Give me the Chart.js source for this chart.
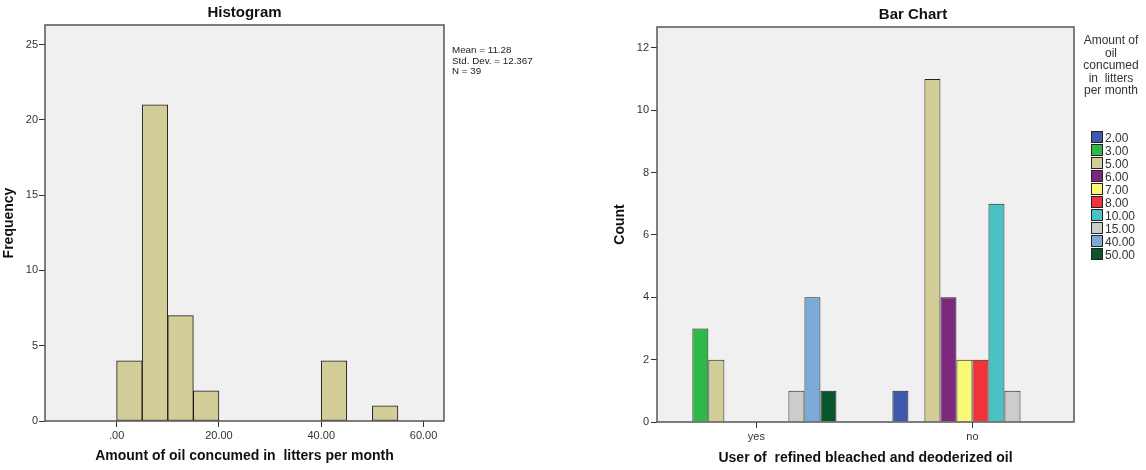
<!DOCTYPE html>
<html>
<head>
<meta charset="utf-8">
<script src="https://cdn.jsdelivr.net/npm/chart.js@4.4.1/dist/chart.umd.min.js"></script>
<style>
  body { margin: 0; background: #fff; width: 1146px; height: 470px; overflow: hidden; position: relative;
         font-family: "Liberation Sans", Arial, sans-serif; }
  #histCanvas { position: absolute; left: 0; top: 0; }
  #barCanvas { position: absolute; left: 580px; top: 0; }
  .bar-title { position: absolute; left: 813px; top: 4px; width: 200px; text-align: center;
               font-weight: bold; font-size: 15px; line-height: 20px; color: #111; }
  .stats { position: absolute; left: 452px; top: 45px; font-size: 9.8px; line-height: 10.5px; color: #222; white-space: pre; }
  .legend { position: absolute; left: 1076px; top: 0; width: 70px; color: #333; }
  .legend-title { position: absolute; left: 0; top: 34px; width: 70px; text-align: center; font-size: 12px; line-height: 12.5px; white-space: pre; }
  .legend-item { position: absolute; left: 15px; height: 13px; font-size: 12px; line-height: 13px; white-space: nowrap; }
  .legend-item span { display: inline-block; width: 10px; height: 10px; border: 1px solid #222; vertical-align: -1px; margin-right: 2px; }
</style>
</head>
<body>
<canvas id="histCanvas" width="540" height="470"></canvas>
<canvas id="barCanvas" width="566" height="470"></canvas>
<div class="bar-title">Bar Chart</div>
<div class="stats">Mean = 11.28
Std. Dev. = 12.367
N = 39</div>
<div class="legend" id="legend"></div>
<script>
// Histogramme : quantité d'huile consommée (bins de 5 litres)
const histBinStart = [0, 5, 10, 15, 40, 50];
const histCounts = [4, 21, 7, 2, 4, 1];
const binWidth = 5;
const histXTicks = [0, 20, 40, 60];
const freqTicks = [0, 5, 10, 15, 20, 25];

// Bar chart : utilisateur d'huile raffinée x quantité
const userCategories = ['yes', 'no'];
const amountLabels = ['2.00', '3.00', '5.00', '6.00', '7.00', '8.00', '10.00', '15.00', '40.00', '50.00'];
const countsYes = [0, 3, 2, 0, 0, 0, 0, 1, 4, 1];
const countsNo = [1, 0, 11, 4, 2, 2, 7, 1, 0, 0];
const amountColors = ['#3e58ac', '#2eb848', '#d3ce97', '#7c287d', '#fbf873', '#ef3338',
                      '#48c2c5', '#cccccc', '#7aaad5', '#0a562c'];
const countTicks = [0, 2, 4, 6, 8, 10, 12];

const tickFont = { family: 'Liberation Sans', size: 11 };
const axisTitleFont = { family: 'Liberation Sans', size: 14, weight: 'bold' };

// Fond gris et cadre du graphique
const framePlugin = {
    id: 'frame',
    beforeDraw(chart) {
        const { ctx, chartArea: a } = chart;
        ctx.save();
        ctx.fillStyle = '#f0f0f0';
        ctx.fillRect(a.left, a.top, a.right - a.left, a.bottom - a.top);
        ctx.restore();
    },
    afterDatasetsDraw(chart) {
        const { ctx, chartArea: a } = chart;
        ctx.save();
        ctx.strokeStyle = '#555';
        ctx.lineWidth = 1.5;
        ctx.strokeRect(a.left, a.top, a.right - a.left, a.bottom - a.top);
        ctx.restore();
    }
};

const tickMarks = { display: true, offset: false, drawOnChartArea: false, drawTicks: true, tickLength: 6, color: '#333' };

new Chart(document.getElementById('histCanvas'), {
    type: 'bar',
    data: {
        datasets: [{
            data: histBinStart.map((s, i) => ({ x: s + binWidth / 2, y: histCounts[i] })),
            backgroundColor: '#d3ce97',
            borderColor: '#1a1a1a',
            borderWidth: 1,
            borderSkipped: false,
            barPercentage: 1,
            categoryPercentage: 1
        }]
    },
    plugins: [framePlugin],
    options: {
        responsive: false,
        animation: false,
        layout: { padding: { left: 0, top: 0, right: 96, bottom: 0 } },
        plugins: {
            legend: { display: false },
            tooltip: { enabled: false },
            title: {
                display: true, text: 'Histogram', fullSize: false, color: '#111',
                font: { family: 'Liberation Sans', size: 15, weight: 'bold' },
                padding: { top: 4, bottom: 3 }
            }
        },
        scales: {
            x: {
                type: 'linear', min: -14, max: 64, offset: false,
                afterBuildTicks: s => { s.ticks = histXTicks.map(v => ({ value: v })); },
                afterFit: s => { s.height = 49; },
                grid: tickMarks,
                border: { display: false },
                ticks: { font: tickFont, color: '#333', padding: 2, maxRotation: 0,
                         callback: v => v === 0 ? '.00' : v.toFixed(2) },
                title: { display: true, text: 'Amount of oil concumed in  litters per month', font: axisTitleFont,
                         color: '#111', padding: { top: 0, bottom: 5 } }
            },
            y: {
                min: 0, max: 26.3,
                afterBuildTicks: s => { s.ticks = freqTicks.map(v => ({ value: v })); },
                afterFit: s => { s.width = 45; },
                grid: tickMarks,
                border: { display: false },
                ticks: { font: tickFont, color: '#333', padding: 1 },
                title: { display: true, text: 'Frequency', font: axisTitleFont, color: '#111', padding: { top: 1, bottom: 0 } }
            }
        }
    }
});

new Chart(document.getElementById('barCanvas'), {
    type: 'bar',
    data: {
        datasets: amountLabels.map((lab, i) => ({
            label: lab,
            data: [{ x: 0, y: countsYes[i] }, { x: 1, y: countsNo[i] }],
            backgroundColor: amountColors[i],
            borderColor: '#222',
            borderWidth: 1,
            barPercentage: 1,
            categoryPercentage: 0.741
        }))
    },
    plugins: [framePlugin],
    options: {
        responsive: false,
        animation: false,
        layout: { padding: { left: 0, top: 27, right: 72, bottom: 0 } },
        plugins: {
            legend: { display: false },
            tooltip: { enabled: false }
        },
        scales: {
            x: {
                type: 'linear', min: -0.46, max: 1.47, offset: false,
                afterBuildTicks: s => { s.ticks = userCategories.map((c, i) => ({ value: i })); },
                afterFit: s => { s.height = 48; },
                grid: tickMarks,
                border: { display: false },
                ticks: { font: tickFont, color: '#333', padding: 2, maxRotation: 0,
                         callback: v => userCategories[v] },
                title: { display: true, text: 'User of  refined bleached and deoderized oil', font: axisTitleFont,
                         color: '#111', padding: { top: 0, bottom: 3 } }
            },
            y: {
                min: 0, max: 12.67,
                afterBuildTicks: s => { s.ticks = countTicks.map(v => ({ value: v })); },
                afterFit: s => { s.width = 77; },
                grid: tickMarks,
                border: { display: false },
                ticks: { font: tickFont, color: '#333', padding: 2 },
                title: { display: true, text: 'Count', font: axisTitleFont, color: '#111', padding: { top: 32, bottom: 0 } }
            }
        }
    }
});

// Légende HTML (titre sur plusieurs lignes comme dans SPSS)
const legend = document.getElementById('legend');
const legendTitle = document.createElement('div');
legendTitle.className = 'legend-title';
legendTitle.textContent = 'Amount of\noil\nconcumed\nin  litters\nper month';
legend.appendChild(legendTitle);
amountLabels.forEach((lab, i) => {
    const item = document.createElement('div');
    item.className = 'legend-item';
    item.style.top = (130.5 + i * 13.1) + 'px';
    const box = document.createElement('span');
    box.style.background = amountColors[i];
    item.appendChild(box);
    item.appendChild(document.createTextNode(lab));
    legend.appendChild(item);
});
</script>
</body>
</html>
